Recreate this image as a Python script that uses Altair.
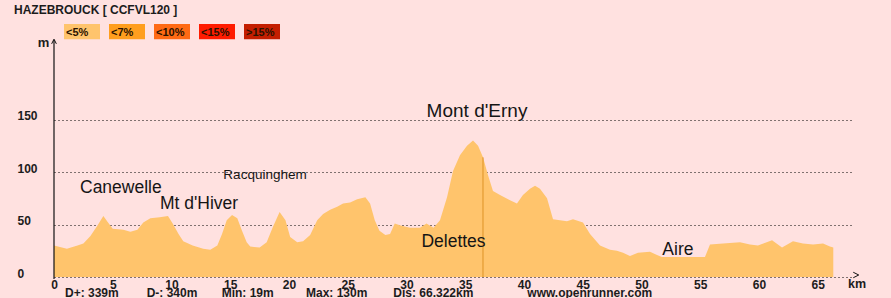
import altair as alt
import pandas as pd

FONT = "Liberation Sans"

# Route profile: distance along the route (km) and elevation (m)
dist_km = [0.0, 1.1, 2.0, 2.5, 3.1, 3.7, 4.2, 4.6, 5.0, 5.9, 6.5, 7.1, 7.6, 8.2, 9.0,
           9.7, 10.1, 10.6, 11.0, 11.8, 12.7, 13.3, 13.9, 14.3, 14.7, 15.15, 15.6, 16.0,
           16.4, 16.7, 17.5, 18.1, 18.6, 19.2, 19.7, 20.1, 20.7, 21.2, 21.8, 22.4, 22.9,
           23.5, 24.1, 24.6, 25.2, 25.8, 26.5, 26.9, 27.3, 27.7, 28.2, 28.6, 29.0, 29.5,
           30.3, 31.15, 31.7, 32.3, 32.85, 33.45, 33.96, 34.55, 35.15, 35.66, 36.09, 36.51,
           36.94, 37.36, 37.96, 38.81, 39.4, 39.91, 40.51, 40.94, 41.36, 41.96, 42.47,
           43.66, 44.17, 45.02, 45.62, 46.47, 47.32, 47.91, 48.43, 49.02, 49.7, 50.72,
           51.32, 51.74, 55.4, 55.83, 56.94, 58.38, 59.23, 59.91, 61.11, 61.96, 62.89,
           63.74, 64.6, 65.45, 66.04, 66.322]
elev_m = [30, 27, 30, 32, 39, 49, 58, 52, 46, 45, 43, 45, 52, 56, 57,
          58, 51, 41, 34, 30, 27, 26, 30, 41, 54, 59, 56, 44,
          33, 29, 28, 33, 47, 62, 54, 38, 33, 34, 40, 54, 60,
          64, 67, 70, 71, 74, 76, 70, 54, 44, 40, 41, 51, 49,
          47, 47, 51, 47, 54, 76, 101, 116, 125, 130, 125, 114,
          97, 82, 78, 73, 70, 78, 84, 87, 84, 75, 55,
          53, 55, 52, 41, 30, 26, 25, 23, 20, 23, 24,
          21, 19, 19, 31, 32, 33, 31, 30, 35, 28, 34,
          32, 31, 32, 29, 28]

# Axis ticks
elev_ticks = [0, 50, 100, 150]
dist_ticks = [0, 5, 10, 15, 20, 25, 30, 35, 40, 45, 50, 55, 60, 65]

# Named places: label anchor (km along route, elevation of text baseline in m)
place_names = ["Canewelle", "Mt d'Hiver", "Racquinghem", "Mont d'Erny", "Delettes", "Aire"]
place_km = [5.69, 12.34, 17.96, 36.0, 34.0, 53.1]
place_m = [79.7, 64.5, 92.9, 152.7, 28.9, 21.0]

# Gradient classes
grade_labels = ["<5%", "<7%", "<10%", "<15%", ">15%"]
grade_colors = ["#FFC46C", "#FF9E1E", "#FF6A14", "#FF1C00", "#C41E00"]

# Route summary
route_name = "HAZEBROUCK [ CCFVL120 ]"
climb_m = 339
descent_m = 340
min_m = 19
max_m = 130
total_km = 66.322
site = "www.openrunner.com"

# Position marker on the profile (index into the profile arrays)
marker_idx = 65

BG = "#FFE1E0"
AREA = grade_colors[0]
INK = "#1c1c1c"

W, H = 799, 252
X_MAX, Y_MAX = 68, 240

profile = pd.DataFrame({"km": dist_km, "m": elev_m})
xs = alt.Scale(domain=[0, X_MAX], nice=False, zero=False)
ys = alt.Scale(domain=[0, Y_MAX], nice=False)

area = alt.Chart(profile).mark_area(color=AREA, interpolate="linear").encode(
    x=alt.X("km:Q", scale=xs, axis=alt.Axis(
        values=dist_ticks, grid=False, domain=False, ticks=False, tickSize=0,
        labelPadding=11, labelBaseline="alphabetic", labelFlush=False,
        labelOverlap=False, labelFont=FONT, labelFontSize=12, labelFontWeight="bold",
        labelColor=INK, title=None)),
    y=alt.Y("m:Q", scale=ys, axis=alt.Axis(
        values=elev_ticks, grid=True, gridDash=[1, 3], gridColor="#000000",
        gridOpacity=1, gridWidth=1, domain=False, ticks=False, tickSize=0,
        labelAlign="left", labelPadding=37, labelBaseline="alphabetic",
        labelFont=FONT, labelFontSize=12, labelFontWeight="bold",
        labelColor=INK, title=None)),
)

marker = alt.Chart(pd.DataFrame({
    "km": [dist_km[marker_idx]], "m0": [0], "m1": [elev_m[marker_idx]]
})).mark_rule(color="#DE9326", strokeWidth=1).encode(
    x=alt.X("km:Q", scale=xs), y=alt.Y("m0:Q", scale=ys), y2="m1:Q")

place_size = {"Racquinghem": 13.5, "Mont d'Erny": 19}
places = pd.DataFrame({"name": place_names, "km": place_km, "m": place_m})
places["fs"] = [place_size.get(n, 17.5) for n in place_names]
place_text = alt.Chart(places).mark_text(
    align="center", baseline="alphabetic", font=FONT, color="#151515"
).encode(
    x=alt.X("km:Q", scale=xs), y=alt.Y("m:Q", scale=ys), text="name:N",
    size=alt.Size("fs:Q", scale=None, legend=None))

one = pd.DataFrame({"k": [0]})

y_axis_line = alt.Chart(one).mark_rule(color="#111111", strokeWidth=1.2).encode(
    x=alt.value(0), y=alt.value(15), y2=alt.value(254))
y_arrow = alt.Chart(one).mark_point(
    shape="M-1,1L0,-1L1,1", filled=False, color="#111111", strokeWidth=1, size=22, opacity=1
).encode(x=alt.value(0), y=alt.value(16.5))
x_arrow = alt.Chart(one).mark_point(
    shape="M-1,-1L1,0L-1,1", filled=False, color="#111111", strokeWidth=1, size=30, opacity=1
).encode(x=alt.value(802), y=alt.value(250))


def txt(s, x, y, size=12, weight="bold", align="left", color=INK):
    return alt.Chart(pd.DataFrame({"t": [s]})).mark_text(
        align=align, baseline="alphabetic", font=FONT, fontSize=size,
        fontWeight=weight, color=color
    ).encode(x=alt.value(x), y=alt.value(y), text="t:N")


layers = [area, marker, place_text, y_axis_line, y_arrow, x_arrow]

layers.append(txt(route_name, -40, -11))
layers.append(txt("m", -10.5, 22, size=13, align="center"))
layers.append(txt("km", 803, 263, size=12.5, align="center"))

# Gradient legend boxes
for i, (lab, col) in enumerate(zip(grade_labels, grade_colors)):
    bx = 10 + 45 * i
    layers.append(alt.Chart(one).mark_rect(color=col).encode(
        x=alt.value(bx), x2=alt.value(bx + 36), y=alt.value(-1), y2=alt.value(14.3)))
    layers.append(txt(lab, bx + 2, 11, size=11, color="#2a1200"))

# Route summary line
summary = [
    (f"D+: {climb_m}m", 11),
    (f"D-: {descent_m}m", 92.7),
    (f"Min: {min_m}m", 167.7),
    (f"Max: {max_m}m", 252),
    (f"Dis: {total_km}km", 339.3),
    (site, 473.3),
]
for s, x in summary:
    layers.append(txt(s, x, 272))

chart = alt.layer(*layers).properties(
    width=W, height=H,
    autosize=alt.AutoSizeParams(type="none"),
    padding={"left": 54, "top": 25, "right": 38, "bottom": 21},
    background=BG,
).configure_view(stroke=None)

chart.save("out.html", embed_options={"renderer": "svg", "actions": False})
